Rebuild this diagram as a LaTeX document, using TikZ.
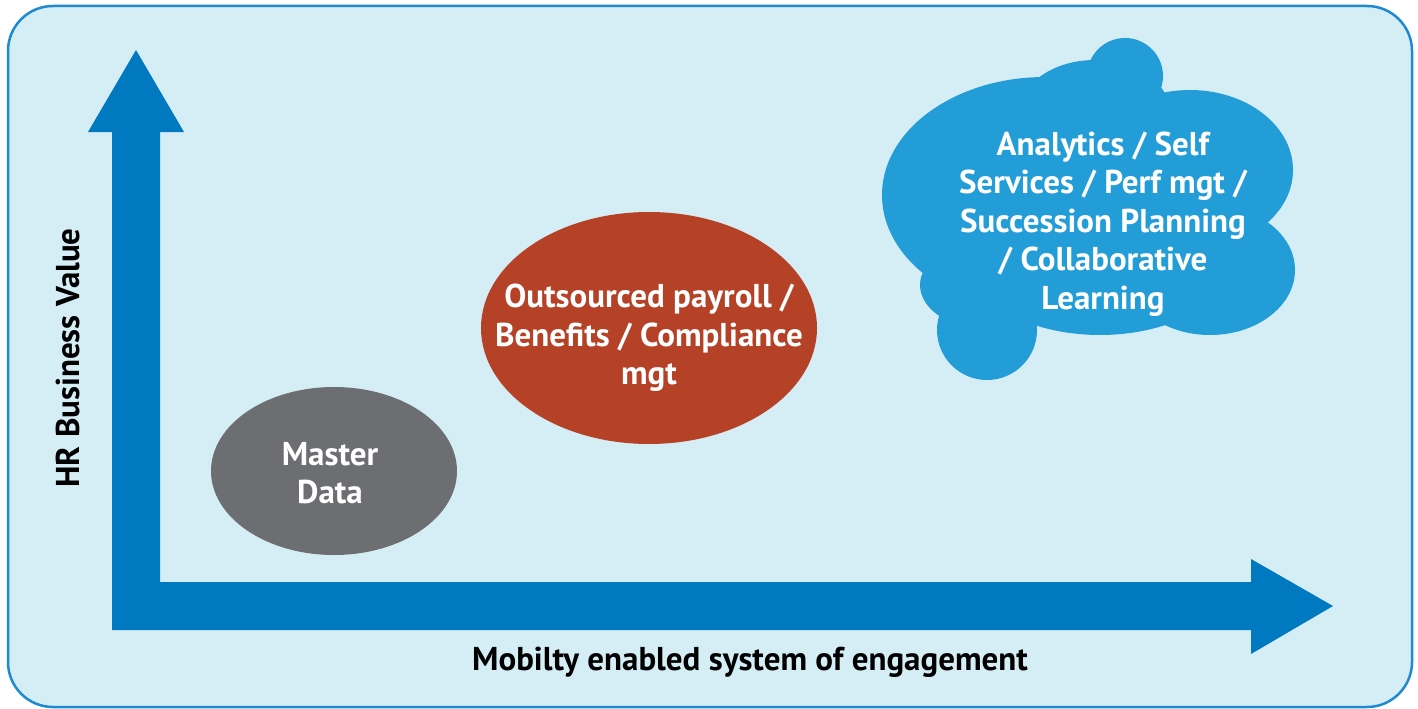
\documentclass[tikz,border=0pt]{standalone}
\usepackage{fontspec}
\setmainfont{PT Sans}
\usetikzlibrary{shapes.geometric}
\definecolor{panel}{HTML}{D5EDF5}
\definecolor{panelrim}{HTML}{1E8AD2}
\definecolor{axisblue}{HTML}{0079C1}
\definecolor{slate}{HTML}{6D6E71}
\definecolor{rust}{HTML}{B54127}
\definecolor{sky}{HTML}{239DD8}
\begin{document}
\begin{tikzpicture}[x=1pt,y=-1pt,
  caption/.style={font=\bfseries\fontsize{33}{38.5}\selectfont, align=center, inner sep=0pt},
  bubble/.style={ellipse, inner sep=0pt}]
\useasboundingbox (0,0) rectangle (1418,709);
% panel
\draw[panelrim, fill=panel, line width=2.5pt, rounded corners=45pt] (8,6) rectangle (1412,707);
% L-shaped axis arrow
\coordinate (ytip) at (136,50);
\coordinate (xtip) at (1333,606);
\fill[axisblue] (ytip) -- (184,132) -- (160,132) -- (160,582) -- (1251,582) -- (1251,559)
  -- (xtip) -- (1251,654) -- (1251,630) -- (112,630) -- (112,132) -- (88,132) -- cycle;
% bubbles
\node[bubble, fill=slate, minimum width=246pt, minimum height=168pt] (master) at (334,471) {};
\node[caption, text=white] (mastertext) at (330,473) {Master\\Data};
\node[bubble, fill=rust, minimum width=336pt, minimum height=232pt] (payroll) at (649,328) {};
\node[caption, text=white] (payrolltext) at (649,338) {Outsourced payroll /\\Benefits / Compliance\\mgt};
% cloud, built from overlapping lobes
\fill[sky] (1045,195) ellipse [x radius=163, y radius=118];
\fill[sky] (1095,112) ellipse [x radius=75, y radius=52];
\fill[sky] (1125,76) circle [radius=38];
\fill[sky] (1190,170) ellipse [x radius=103, y radius=80];
\fill[sky] (1210,270) ellipse [x radius=85, y radius=65];
\fill[sky] (990,285) ellipse [x radius=70, y radius=45];
\fill[sky] (987,330) circle [radius=50];
\fill[sky] (1100,235) ellipse [x radius=150, y radius=100];
\node[caption, text=white] (cloudtext) at (1103,224) {Analytics / Self\\Services / Perf mgt /\\Succession Planning\\/ Collaborative\\Learning};
% axis labels
\node[caption] (xlabel) at (750,662) {Mobilty enabled system of engagement};
\node[caption, rotate=90] (ylabel) at (68,358) {HR Business Value};
\end{tikzpicture}
\end{document}
